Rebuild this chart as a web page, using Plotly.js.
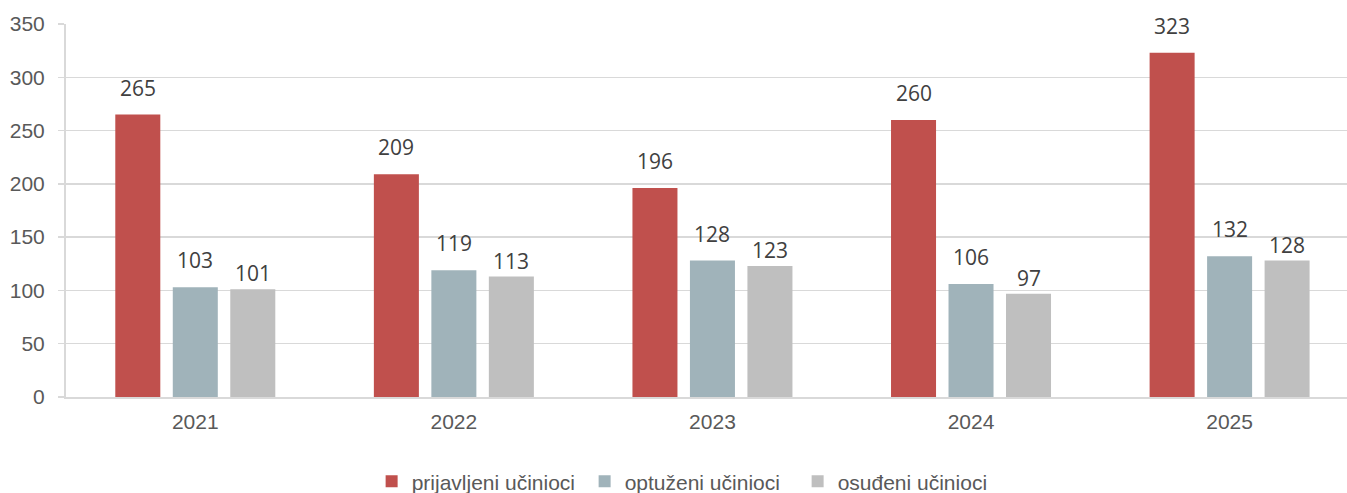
<!DOCTYPE html>
<html><head><meta charset="utf-8">
<script src="https://cdn.plot.ly/plotly-3.0.1.min.js"></script>
<style>html,body{margin:0;padding:0;background:#fff}#chart{width:1347px;height:493px}</style>
</head><body><div id="chart"></div>
<script>
const years = ['2021','2022','2023','2024','2025'];
const seriesNames = ['prijavljeni učinioci','optuženi učinioci','osuđeni učinioci'];
const prijavljeni = [265,209,196,260,323];
const optuzeni = [103,119,128,106,132];
const osudjeni = [101,113,123,97,128];
const colors = ['#C0504D','#A0B3BA','#BFBFBF'];
const values = [prijavljeni, optuzeni, osudjeni];
const labelShift = [11, 11, 0];

const bargap = 0.333, bargroupgap = 0.217;
const traces = values.map((v,k)=>({
  type:'bar', x:years, y:v, name:seriesNames[k],
  marker:{color:colors[k]}, hoverinfo:'x+y'
}));
const slot = (1-bargap)/3;
const annotations = [];
values.forEach((v,k)=>{
  v.forEach((val,i)=>{
    annotations.push({x:i+(k-1)*slot, y:val, xref:'x', yref:'y', text:String(val),
      showarrow:false, yanchor:'bottom', yshift:labelShift[k],
      font:{family:'Open Sans, Liberation Sans, sans-serif', size:21, color:'#404040'}});
  });
});
const layout = {
  width:1347, height:493,
  margin:{l:66, r:0, t:24, b:96},
  paper_bgcolor:'#fff', plot_bgcolor:'#fff',
  barmode:'group', bargap:bargap, bargroupgap:bargroupgap,
  font:{family:'Liberation Sans, Arial, sans-serif', size:21, color:'#595959'},
  xaxis:{type:'category', range:[-0.5, 4.454], showline:true, linecolor:'#D9D9D9', linewidth:2, ticks:'', showgrid:false,
    ticklabelstandoff:5, tickfont:{size:21,color:'#595959'}},
  yaxis:{range:[0,350], dtick:50, showgrid:true, gridcolor:'#D9D9D9', gridwidth:1.5,
    showline:true, linecolor:'#D9D9D9', linewidth:2, ticks:'outside', ticklen:6, tickcolor:'#D9D9D9', tickwidth:1.5,
    zeroline:false, tickfont:{size:21,color:'#595959'}, ticklabelstandoff:9},
  showlegend:true,
  legend:{orientation:'h', x:0.488, xanchor:'center', yref:'container', y:0.023, yanchor:'middle',
    font:{size:21,color:'#595959'}, itemwidth:30, entrywidth:168, entrywidthmode:'pixels', traceorder:'normal'},
  annotations:annotations
};
Plotly.newPlot('chart', traces, layout, {displayModeBar:false, staticPlot:true});
</script></body></html>
